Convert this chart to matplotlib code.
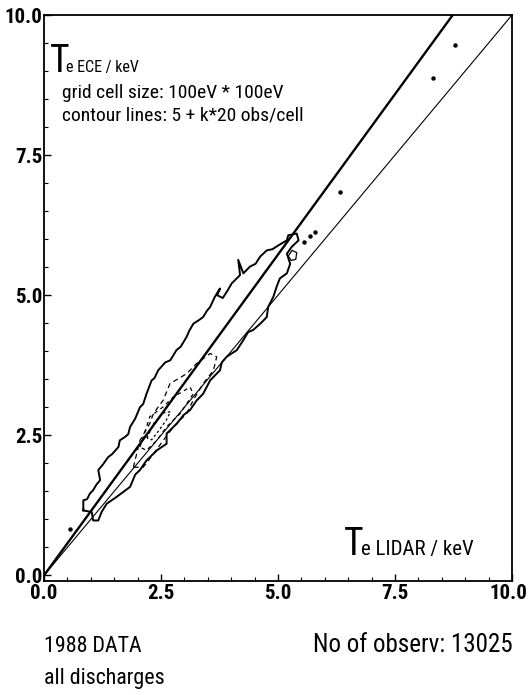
import matplotlib
matplotlib.use("Agg")
import matplotlib.pyplot as plt
from matplotlib import font_manager
from matplotlib.transforms import ScaledTranslation
import numpy as np

fl = font_manager.fontManager.ttflist
names = {f.name for f in fl}
STRETCH = "normal"
FONT = None
for cand in ["Roboto Condensed", "Liberation Sans Narrow", "Open Sans Condensed"]:
    if cand in names:
        FONT = [cand, "DejaVu Sans"]
        break
if FONT is None:
    FONT = ["DejaVu Sans"]
    STRETCH = "condensed"
plt.rcParams["font.family"] = FONT
plt.rcParams["font.stretch"] = STRETCH

# ---- data (keV) ----
major_ticks = [0.0, 2.5, 5.0, 7.5, 10.0]
tick_labels = ["0.0", "2.5", "5.0", "7.5", "10.0"]

fit_slope = 1.145          # thick regression line  Te_ECE = 1.145 * Te_LIDAR
ident_slope = 1.0          # thin identity line

# outer contour (5 obs/cell)
outer_x = [0.84, 0.84, 0.92, 0.98, 1.05, 1.12, 1.20, 1.16, 1.26, 1.37, 1.45, 1.59, 1.62, 1.73,
           1.80, 1.84, 1.95, 2.05, 2.12, 2.19, 2.30, 2.36, 2.44, 2.59, 2.70, 2.83, 2.92, 3.05,
           3.10, 3.19, 3.30, 3.40, 3.48, 3.55, 3.65, 3.76, 3.70, 3.82, 3.92, 4.01, 4.19, 4.15,
           4.26, 4.40, 4.52, 4.62, 4.76, 4.88, 5.01, 5.19, 5.22, 5.40, 5.44, 5.29, 5.19, 5.26,
           5.19, 5.04, 4.97, 4.90, 4.79, 4.76, 4.62, 4.47, 4.36, 4.26, 4.12, 3.90, 3.80, 3.76,
           3.55, 3.40, 3.26, 3.12, 2.98, 2.84, 2.62, 2.62, 2.41, 2.19, 2.05, 1.95, 1.84, 1.55,
           1.34, 1.23, 1.16, 1.05, 1.02, 0.84]
outer_y = [1.16, 1.34, 1.36, 1.46, 1.52, 1.62, 1.70, 1.88, 1.98, 2.11, 2.16, 2.29, 2.41, 2.47,
           2.52, 2.65, 2.80, 3.00, 3.06, 3.24, 3.48, 3.52, 3.66, 3.80, 3.84, 4.02, 4.08, 4.26,
           4.36, 4.49, 4.55, 4.61, 4.72, 4.79, 4.97, 5.12, 5.00, 4.95, 5.08, 5.21, 5.36, 5.63,
           5.39, 5.51, 5.56, 5.69, 5.80, 5.82, 5.89, 5.98, 6.07, 6.10, 5.98, 5.86, 5.74, 5.56,
           5.39, 5.30, 5.15, 4.97, 4.79, 4.61, 4.49, 4.38, 4.34, 4.20, 4.02, 3.90, 3.80, 3.66,
           3.48, 3.24, 3.12, 2.95, 2.86, 2.71, 2.53, 2.35, 2.23, 2.05, 1.88, 1.80, 1.58, 1.40,
           1.28, 1.13, 0.98, 0.98, 1.13, 1.16]

# inner contour (25 obs/cell)
inner1_x = [1.91, 2.05, 2.26, 2.34, 2.55, 2.69, 3.05, 3.26, 3.55, 3.69, 3.62, 3.40, 3.19, 3.05,
            2.76, 2.55, 2.34, 2.12, 1.91]
inner1_y = [1.93, 2.41, 2.71, 2.89, 3.13, 3.42, 3.60, 3.78, 3.96, 3.90, 3.66, 3.42, 3.13, 2.89,
            2.65, 2.41, 2.17, 1.93, 1.93]

# inner contour (45 obs/cell)
inner2_x = [2.05, 2.26, 2.55, 2.76, 3.12, 3.19, 2.91, 2.62, 2.41, 2.19, 2.05]
inner2_y = [2.29, 2.83, 3.01, 3.18, 3.36, 3.24, 2.89, 2.65, 2.41, 2.23, 2.29]

# inner contour (65 obs/cell)
inner3_x = [2.20, 2.35, 2.55, 2.70, 2.62, 2.45, 2.30, 2.20]
inner3_y = [2.45, 2.72, 2.90, 2.92, 2.78, 2.58, 2.42, 2.45]

# small closed contour near (5.3, 5.7)
loop_x = [5.22, 5.30, 5.40, 5.38, 5.28, 5.22]
loop_y = [5.70, 5.80, 5.76, 5.64, 5.62, 5.70]

# isolated cells
dot_x = [0.56, 5.55, 5.68, 5.80, 6.32, 8.31, 8.78]
dot_y = [0.83, 5.95, 6.05, 6.12, 6.84, 8.87, 9.46]

# ---- figure ----
fig = plt.figure(figsize=(5.28, 6.95), dpi=100)
ax = fig.add_axes([44/528, 1-581/695, 468/528, 566/695])
ax.set_xlim(0, 10)
ax.set_ylim(-0.1, 10)

xl = np.array([0.0, 10.0])
ax.plot(xl, fit_slope * xl, color="black", lw=1.7, solid_capstyle="butt")
ax.plot(xl, ident_slope * xl, color="black", lw=0.8)

ax.plot(outer_x, outer_y, color="black", lw=1.4)
ax.plot(inner1_x, inner1_y, color="black", lw=0.9, ls=(0, (4, 3)))
ax.plot(inner2_x, inner2_y, color="black", lw=0.9, ls=(0, (3, 3)))
ax.plot(inner3_x, inner3_y, color="black", lw=0.9, ls=(0, (2, 2)))
ax.plot(loop_x, loop_y, color="black", lw=0.9)
ax.plot(dot_x, dot_y, ls="none", marker="o", ms=2.2, color="black")

ax.set_xticks(major_ticks)
ax.set_yticks(major_ticks)
ax.set_xticklabels(tick_labels)
ax.set_yticklabels(tick_labels)
ax.set_xticks(np.arange(0, 10.01, 0.5), minor=True)
ax.set_yticks(np.arange(0, 10.01, 0.5), minor=True)
ax.tick_params(which="both", direction="in", top=False, right=False)
ax.tick_params(which="major", length=5, width=1.0, labelsize=15)
ax.tick_params(axis="x", which="major", pad=2)
ax.tick_params(axis="y", which="major", pad=1)
ax.tick_params(which="minor", length=3, width=0.8)
for lab in ax.get_xticklabels() + ax.get_yticklabels():
    lab.set_fontweight("bold")
xlabs = ax.get_xticklabels()
xlabs[-1].set_transform(xlabs[-1].get_transform() + ScaledTranslation(-4/100, 0, fig.dpi_scale_trans))
for sp in ax.spines.values():
    sp.set_linewidth(1.3)

tr = ax.transAxes
ax.text(0.013, 0.899, "T", transform=tr, fontsize=27, va="baseline", ha="left")
ax.text(0.047, 0.899, "e ECE / keV", transform=tr, fontsize=11.5, va="baseline", ha="left")
ax.text(0.038, 0.853, "grid cell size: 100eV * 100eV", transform=tr, fontsize=14, va="baseline")
ax.text(0.038, 0.813, "contour lines: 5 + k*20 obs/cell", transform=tr, fontsize=14, va="baseline")
ax.text(0.641, 0.046, "T", transform=tr, fontsize=27, va="baseline", ha="left")
ax.text(0.678, 0.046, "e LIDAR / keV", transform=tr, fontsize=15, va="baseline", ha="left")

fig.text(44/528, 1-652/695, "1988 DATA", fontsize=15.8, va="baseline", ha="left")
fig.text(44/528, 1-684/695, "all discharges", fontsize=15.8, va="baseline", ha="left")
fig.text(513/528, 1-652/695, "No of observ: 13025", fontsize=18, va="baseline", ha="right")

fig.savefig("out.png", dpi=100)
